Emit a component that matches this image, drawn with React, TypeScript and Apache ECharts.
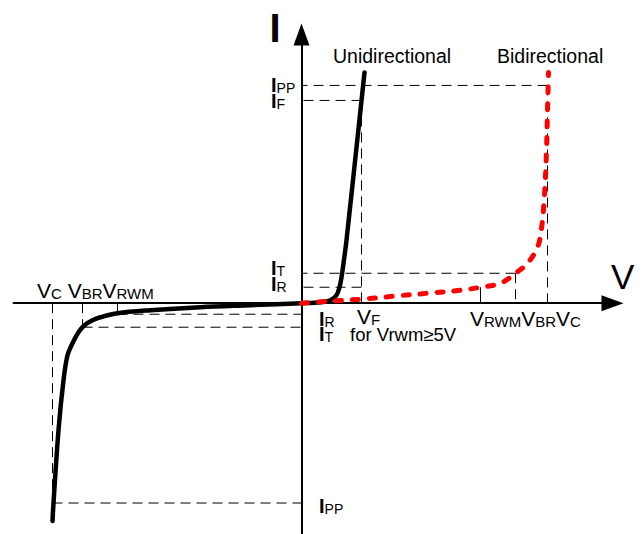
import React, { useEffect, useRef } from "react";
import * as echarts from "echarts";

// ---- Data (arbitrary units, origin at the crossing of the V and I axes) ----
// Unidirectional TVS I-V curve
const uniV = [-249, -248, -243, -238, -234, -229, -223, -217, -209, -201, -184, -151, -101, -51, 0, 19, 29, 35, 38, 40, 42, 45, 63];
const uniI = [-218, -200, -127, -77, -52, -40, -29, -22, -17, -14, -10, -7, -4, -2, 0, 1, 3, 8, 16, 26, 40, 63, 231];
// Bidirectional TVS I-V curve (positive quadrant shown)
const biV = [0, 26, 59, 92, 126, 159, 179, 199, 214, 226, 236, 240, 243, 245, 246, 247];
const biI = [0, 2, 4, 7, 10, 13, 16, 20, 30, 40, 56, 75, 108, 153, 193, 231];
// Characteristic levels, positive side: VF, VRWM, VBR, VC / IR, IT, IF, IPP
const posVoltLevels = [60, 179, 214, 246];
const posCurrLevels = [16, 30, 203, 218];
// Characteristic levels, negative side: VRWM, VBR, VC / IR, IT, IPP
const negVoltLevels = [-184, -219, -249];
const negCurrLevels = [-11, -24, -200];
// Axis ranges
const vRange = [-288, 311];
const iRange = [-231, 269];
// Texts
const axisTitles = ["I", "V"];
const seriesTitles = ["Unidirectional", "Bidirectional"];
const levelLabels = [
  "{b|I}{t|PP}", "{b|I}{t|F}", "{b|I}{t|T}", "{b|I}{t|R}",
  "{b|I}{t|R}", "{b|I}{t|T}", "{b|I}{t|PP}",
  "{m|V}{s|F}",
  "{m|V}{s|RWM}{m|V}{s|BR}{m|V}{s|C}",
  "{m|V}{s|C}{m| V}{s|BR}{m|V}{s|RWM}",
];
const noteText = "for Vrwm≥5V";

const FONT = '"Liberation Sans", Arial, Helvetica, sans-serif';

export default function App() {
  const ref = useRef<HTMLDivElement>(null);
  useEffect(() => {
    document.body.style.margin = "0";
    if (!ref.current) return;
    const chart = echarts.init(ref.current, null, { renderer: "svg" });

    const [VF, VRWM, VBR, VC] = posVoltLevels;
    const [IR, IT, IF, IPP] = posCurrLevels;
    const [nVRWM, nVBR, nVC] = negVoltLevels;
    const [nIR, nIT, nIPP] = negCurrLevels;

    const dashed: number[][][] = [
      [[VC, IPP], [0, IPP]],
      [[VC, IPP], [VC, 0]],
      [[VF, IF], [0, IF]],
      [[VF, IF], [VF, 0]],
      [[VBR, IT], [0, IT]],
      [[VBR, IT], [VBR, 0]],
      [[VF, IR], [0, IR]],
      [[nVC, 0], [nVC, nIPP]],
      [[nVC, nIPP], [0, nIPP]],
      [[nVBR, nIT], [0, nIT]],
      [[nVBR, 0], [nVBR, nIT]],
      [[nVRWM, nIR], [0, nIR]],
    ];
    const solid: number[][][] = [
      [[VRWM, IR], [VRWM, 0]],
      [[nVRWM, 0], [nVRWM, nIR]],
    ];

    const guideSeries = [
      ...dashed.map((seg) => ({
        type: "line",
        data: seg,
        symbol: "none",
        silent: true,
        z: 1,
        lineStyle: { color: "#000", width: 1, type: [10, 6] },
      })),
      ...solid.map((seg) => ({
        type: "line",
        data: seg,
        symbol: "none",
        silent: true,
        z: 1,
        lineStyle: { color: "#000", width: 1 },
      })),
    ];

    const rich = {
      b: { fontFamily: FONT, fontSize: 20, fontWeight: "bold", lineHeight: 22, verticalAlign: "bottom", fill: "#000" },
      m: { fontFamily: FONT, fontSize: 21, lineHeight: 22, verticalAlign: "bottom", fill: "#000" },
      s: { fontFamily: FONT, fontSize: 15, lineHeight: 12, verticalAlign: "bottom", fill: "#000" },
      t: { fontFamily: FONT, fontSize: 14, lineHeight: 16, verticalAlign: "bottom", fill: "#000" },
    };
    const richText = (text: string, x: number, y: number) => ({
      type: "text",
      x,
      y,
      silent: true,
      style: { text, rich, align: "left", verticalAlign: "bottom", fontFamily: FONT, fontSize: 21, fill: "#000" },
    });
    const plainText = (text: string, x: number, y: number, size: number, weight = "normal") => ({
      type: "text",
      x,
      y,
      silent: true,
      style: { text, fontFamily: FONT, fontSize: size, fontWeight: weight, fill: "#000", align: "left", verticalAlign: "middle" },
    });

    const option = {
      animation: false,
      grid: { left: 13.5, right: 31.5, top: 34.5, bottom: -0.5 },
      xAxis: {
        type: "value",
        min: vRange[0],
        max: vRange[1],
        axisLine: {
          onZero: true,
          symbol: ["none", "triangle"],
          symbolSize: [16, 22],
          lineStyle: { color: "#000", width: 2 },
        },
        axisTick: { show: false },
        axisLabel: { show: false },
        splitLine: { show: false },
      },
      yAxis: {
        type: "value",
        min: iRange[0],
        max: iRange[1],
        axisLine: {
          onZero: true,
          symbol: ["none", "triangle"],
          symbolSize: [16, 22],
          lineStyle: { color: "#000", width: 2 },
        },
        axisTick: { show: false },
        axisLabel: { show: false },
        splitLine: { show: false },
      },
      series: [
        ...guideSeries,
        {
          name: seriesTitles[0],
          type: "line",
          data: uniV.map((v, k) => [v, uniI[k]]),
          symbol: "none",
          smooth: 0.35,
          z: 3,
          lineStyle: { color: "#000", width: 4.5, cap: "round", join: "round" },
        },
        {
          name: seriesTitles[1],
          type: "line",
          data: biV.map((v, k) => [v, biI[k]]),
          symbol: "none",
          smooth: 0.35,
          z: 4,
          lineStyle: { color: "#ff0000", width: 5, type: [6, 11], cap: "round", join: "round" },
        },
      ],
      graphic: [
        plainText(axisTitles[0], 269.5, 28, 40, "bold"),
        plainText(axisTitles[1], 611, 276, 35),
        plainText(seriesTitles[0], 333, 56, 19.5),
        plainText(seriesTitles[1], 497, 56, 19.5),
        plainText(noteText, 350, 334, 18.5),
        richText(levelLabels[0], 271, 95),
        richText(levelLabels[1], 271, 111),
        richText(levelLabels[2], 271, 278),
        richText(levelLabels[3], 271, 294),
        richText(levelLabels[4], 319, 329),
        richText(levelLabels[5], 319, 344),
        richText(levelLabels[6], 319, 516),
        richText(levelLabels[7], 357, 327),
        richText(levelLabels[8], 470, 329),
        richText(levelLabels[9], 37, 301),
      ],
    };
    chart.setOption(option as any);
    return () => chart.dispose();
  }, []);
  return <div ref={ref} style={{ width: 644, height: 534 }} />;
}
